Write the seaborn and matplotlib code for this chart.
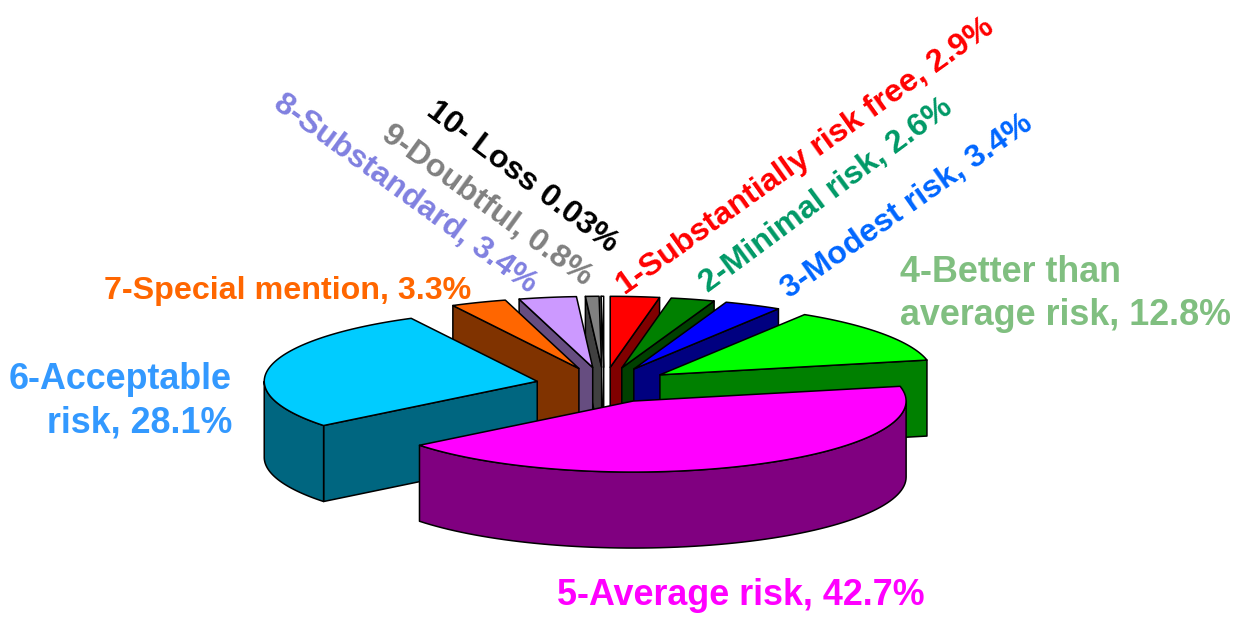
# IMPORT MODULES
import matplotlib.pyplot as plt
from matplotlib.colors import to_rgb
import numpy as np
import seaborn as sns

# DATA
categories = ["1-Substantially risk free", "2-Minimal risk", "3-Modest risk",
              "4-Better than\naverage risk", "5-Average risk", "6-Acceptable\nrisk",
              "7-Special mention", "8-Substandard", "9-Doubtful", "10- Loss"]
shares = [2.9, 2.6, 3.4, 12.8, 42.7, 28.1, 3.3, 3.4, 0.8, 0.03]
share_text = ["2.9%", "2.6%", "3.4%", "12.8%", "42.7%", "28.1%", "3.3%", "3.4%", "0.8%", "0.03%"]

# STYLE
top_colors = ["#FF0000", "#008000", "#0000FF", "#00FF00", "#FF00FF",
              "#00CCFF", "#FF6600", "#CC99FF", "#808080", "#FFFFFF"]
text_colors = ["#FF0000", "#009966", "#0066FF", "#80BF80", "#FF00FF",
               "#3399FF", "#FF6600", "#8080E0", "#808080", "#000000"]

# LABEL PLACEMENT (x, y, rotation, ha, size)
label_place = [(625, 295, 35.5, "left", 23.2), (708, 293, 36.5, "left", 23.2), (789, 299, 35, "left", 23.2),
               (900, 317, 0, "left", 25.8), (557, 605, 0, "left", 25.8), (232, 424, 0, "right", 25.8),
               (104, 299, 0, "left", 23.2), (272, 107, -36, "left", 23.2), (380, 138, -36, "left", 23.2),
               (425, 114, -37, "left", 23.2)]

# PIE GEOMETRY IN PIXELS
cx, cy = 604, 385
rx, ry = 273, 71
depth = 76
explode = 0.25

sns.set_theme(style="white")
plt.rcParams["font.family"] = ["Liberation Sans", "DejaVu Sans"]

fig = plt.figure(figsize=(12.42, 6.19), dpi=100)
ax = fig.add_axes([0, 0, 1, 1])
ax.set_xlim(0, 1242)
ax.set_ylim(619, 0)
sns.despine(ax=ax, left=True, bottom=True)
ax.set_xticks([])
ax.set_yticks([])

# the 0.03% slice still has to show as a sliver
sweep = np.maximum(shares, 0.15)
edges = np.concatenate([[0], np.cumsum(sweep)]) * 360 / sweep.sum()


def rim(ox, oy, a):
    a = np.radians(a)
    return ox + rx * np.sin(a), oy - ry * np.cos(a)


def face(xs, ys, color):
    ax.fill(xs, ys, facecolor=color, edgecolor="black", linewidth=1.1, joinstyle="round")


mids = (edges[:-1] + edges[1:]) / 2
order = np.argsort(-np.cos(np.radians(mids)))

for i in order:
    start, end = edges[i], edges[i + 1]
    m = np.radians(mids[i])
    ox = cx + explode * rx * np.sin(m)
    oy = cy - explode * ry * np.cos(m)
    top = np.array(to_rgb(top_colors[i]))
    wall = top if i == 9 else top * 0.5

    # side faces turned to the viewer
    for a, visible in ((start, np.sin(np.radians(start)) < 0), (end, np.sin(np.radians(end)) > 0)):
        if visible:
            x1, y1 = rim(ox, oy, a)
            face([ox, x1, x1, ox], [oy, y1, y1 + depth, oy + depth], wall)

    # outer wall, front half only
    lo, hi = max(start, 90), min(end, 270)
    if lo < hi:
        arc = np.linspace(lo, hi, 80)
        x1, y1 = rim(ox, oy, arc)
        face(np.r_[x1, x1[::-1]], np.r_[y1, y1[::-1] + depth], wall)

    # top face
    arc = np.linspace(start, end, 80)
    x1, y1 = rim(ox, oy, arc)
    face(np.r_[ox, x1], np.r_[oy, y1], top)

# LABELS
for name, val, col, (x, y, rot, ha, size) in zip(categories, share_text, text_colors, label_place):
    sep = " " if name == "10- Loss" else ", "
    ax.text(x, y, name + sep + val, color=col, fontsize=size, fontweight="bold",
            rotation=rot, rotation_mode="anchor", ha=ha, va="baseline",
            linespacing=1.3, multialignment=ha)

plt.savefig("out.png", dpi=100)
